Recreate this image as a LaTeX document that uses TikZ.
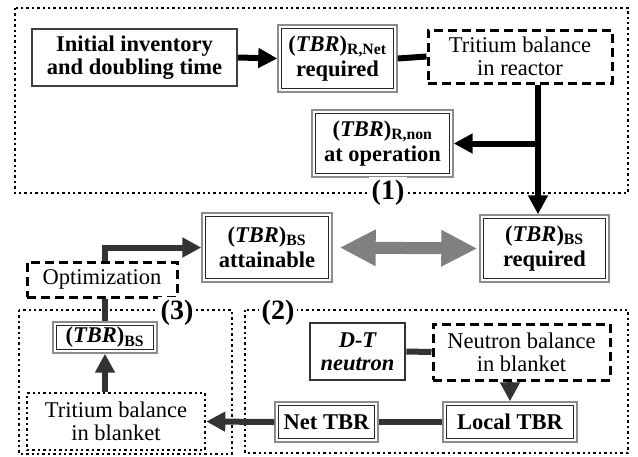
\documentclass[tikz,border=0pt]{standalone}
\usepackage{fontspec}
\setmainfont{Liberation Serif}
\usetikzlibrary{arrows.meta}
\begin{document}
\begin{tikzpicture}[x=1pt,y=-1pt,
  every node/.style={font=\fontsize{22.5}{23}\selectfont, align=center, inner sep=0pt},
  wh/.style 2 args={minimum width=#1pt, minimum height=#2pt},
  sbox/.style={draw=black!75, line width=1.8pt, font=\fontsize{22.5}{23}\selectfont\bfseries},
  dbl/.style={draw=black!45, line width=1.4pt, font=\fontsize{22.5}{23}\selectfont\bfseries,
    path picture={\draw[black!85, line width=1.5pt]
      ([shift={(3.4pt,-3.4pt)}]path picture bounding box.north west) rectangle
      ([shift={(-3.4pt,3.4pt)}]path picture bounding box.south east);}},
  dsh/.style={draw=black, line width=3pt, dash pattern=on 9pt off 5pt},
  dtt/.style={draw=black, line width=2.6pt, dash pattern=on 2.4pt off 3pt},
  region/.style={draw=black, line width=2.6pt, dash pattern=on 2.4pt off 3pt},
  rlabel/.style={fill=white, inner sep=3pt, font=\fontsize{28}{28}\selectfont\bfseries},
  arr/.style={line width=6pt, -{Triangle[length=19pt,width=19pt]}},
  ln/.style={line width=6pt},
  darr/.style={line width=6pt, draw=black!80, -{Triangle[length=19pt,width=19pt]}},
  dln/.style={line width=6pt, draw=black!80}]
\useasboundingbox (0,0) rectangle (638,456);

% regions
\draw[region] (15,8) rectangle (628,193);
\draw[region] (19,310) rectangle (232,454);
\draw[region] (245,310) rectangle (628,453);

% region (1) nodes
\node[sbox, wh={205}{57}] (init) at (134.5,57.5) {Initial inventory\\and doubling time};
\node[dbl, wh={119}{67}] (rnet) at (337.5,58.5) {(\textit{TBR})\textsubscript{R,Net}\\[2pt]required};
\node[dsh, wh={184}{53}] (trr) at (520,56.5) {Tritium balance\\in reactor};
\node[dbl, wh={141}{67}] (rnon) at (382.5,143.5) {(\textit{TBR})\textsubscript{R,non}\\[2pt]at operation};
\node[rlabel] (l1) at (388,193) {(1)};

% middle row
\node[dbl, wh={130}{69}] (att) at (267,247.5) {(\textit{TBR})\textsubscript{BS}\\[2pt]attainable};
\node[dbl, wh={129}{67}] (req) at (544.5,248.5) {(\textit{TBR})\textsubscript{BS}\\[2pt]required};
\node[dsh, wh={150}{35}] (opt) at (102,279.5) {Optimization};

% region (3)
\node[rlabel] (l3) at (177,313) {(3)};
\node[dbl, wh={104}{31}] (tbs) at (105,337.5) {(\textit{TBR})\textsubscript{BS}};
\node[dtt, wh={178}{57}] (tbb) at (116,421.5) {Tritium balance\\in blanket};

% region (2)
\node[rlabel] (l2) at (278,313) {(2)};
\node[draw=black!80, line width=2.6pt, wh={95}{57}, font=\fontsize{22.5}{23}\selectfont\bfseries\itshape] (dt) at (357.5,351.5) {D-T\\neutron};
\node[dsh, wh={177}{56}] (nbb) at (521.5,352) {Neutron balance\\in blanket};
\node[dbl, wh={134}{40}] (ltbr) at (510,422) {Local TBR};
\node[dbl, wh={103}{40}] (ntbr) at (326.5,422) {Net TBR};

% junction coordinates
\coordinate (j) at (538,143.5);
\coordinate (k) at (105,247.5);

% connectors region (1)
\draw[arr] (init.east) -- (rnet.west);
\draw[ln] (rnet.east) -- (trr.west);
\draw[ln] (trr.south -| j) -- (j);
\draw[arr] (j) -- (req.north -| j);
\draw[arr] (j) -- (rnon.east);

% gray double arrow
\draw[line width=12pt, draw=gray, {Triangle[length=36pt,width=34pt]}-{Triangle[length=36pt,width=34pt]},
  shorten <=7pt, shorten >=2pt] (att.east) -- (req.west);

% optimization
\draw[darr] (opt.north -| k) -- (k) -- (att.west);
\draw[dln] (opt.south -| tbs.north) -- (tbs.north);
\draw[darr] (tbs.south |- tbb.north) -- (tbs.south);

% region (2) connectors
\draw[dln] (dt.east) -- (nbb.west);
\draw[darr] (ltbr.north |- nbb.south) -- (ltbr.north);
\draw[dln] (ltbr.west) -- (ntbr.east);
\draw[darr] (ntbr.west) -- (tbb.east);
\end{tikzpicture}
\end{document}
